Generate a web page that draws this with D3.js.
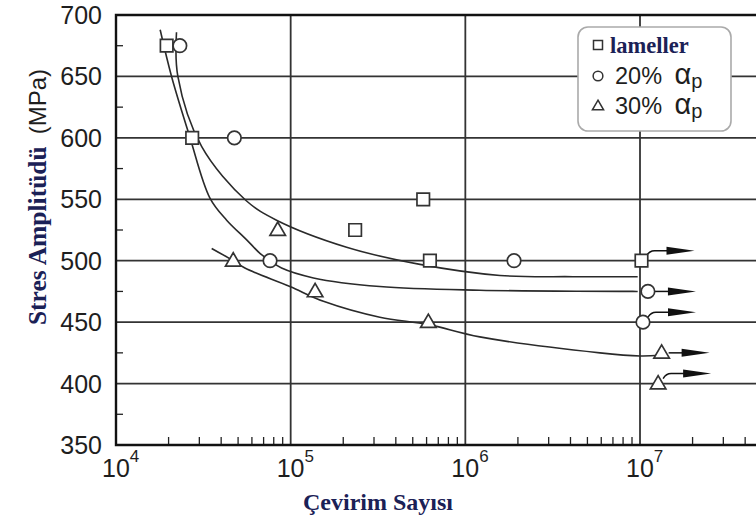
<!DOCTYPE html>
<html><head><meta charset="utf-8">
<script src="https://cdn.jsdelivr.net/npm/d3@7"></script>
<style>html,body{margin:0;padding:0;background:#fff;overflow:hidden}</style>
</head><body>
<svg id="c" width="756" height="522"></svg>
<script>
// ---------- data ----------
const xTickVals = [1e4, 1e5, 1e6, 1e7];
const xTickExp = ["4", "5", "6", "7"];
const yTickVals = [350, 400, 450, 500, 550, 600, 650, 700];
const yMinorVals = [375, 425, 475, 525, 575, 625, 675];

// lameller (squares); runout: 0 none, 1 straight arrow, 2 bent arrow
const lamN = [1.95e4, 2.73e4, 2.34e5, 5.74e5, 6.27e5, 1.02e7];
const lamS = [675, 600, 525, 550, 500, 500];
const lamRun = [0, 0, 0, 0, 0, 2];
// 20% alpha_p (circles)
const p20N = [2.32e4, 4.76e4, 7.62e4, 1.9e6, 1.11e7, 1.04e7];
const p20S = [675, 600, 500, 500, 475, 450];
const p20Run = [0, 0, 0, 0, 1, 2];
// 30% alpha_p (triangles)
const p30N = [8.43e4, 4.69e4, 1.38e5, 6.14e5, 1.33e7, 1.27e7];
const p30S = [525, 500, 475, 450, 425, 400];
const p30Run = [0, 0, 0, 0, 1, 2];

// fitted curves
const curveUN = [2.22e4, 2.26e4, 3.09e4, 5.55e4, 8.3e4, 2.09e5, 5.5e5, 1.58e6, 4.13e6, 9.7e6];
const curveUS = [686, 650, 593, 549, 533, 511, 497, 488, 487, 487];
const curveMN = [1.79e4, 2.08e4, 2.63e4, 3.45e4, 4.3e4, 5.6e4, 6.67e4, 7.62e4, 8.87e4, 1.35e5, 3.24e5, 1.21e6, 9.7e6];
const curveMS = [688, 650, 602, 551, 533, 517, 506, 500, 494, 486, 479, 476, 475];
const curveLN = [3.53e4, 4.69e4, 5.47e4, 9.9e4, 1.54e5, 3.24e5, 6.14e5, 1.21e6, 5.9e6, 1.0e7, 1.3e7];
const curveLS = [510, 500, 494, 479, 467, 454, 448, 438, 425, 422.5, 423];

const legendLabels = ["lameller", "20% ", "30% "];

// ---------- drawing ----------
const svg = d3.select("#c");
const L = 116, T = 15, B = 445, R = 756;
const x = d3.scaleLog().domain([1e4, 1e7]).range([L, 640]);
const y = d3.scaleLinear().domain([350, 700]).range([B, T]);
const gridCol = "#333", ink = "#2a2a2a";

svg.append("rect").attr("width", 756).attr("height", 522).attr("fill", "#fff");

const g = svg.append("g");
g.selectAll(".hg").data(yTickVals.filter(v => v > 350 && v < 700)).join("line")
  .attr("x1", L).attr("x2", R).attr("y1", d => y(d)).attr("y2", d => y(d))
  .attr("stroke", gridCol).attr("stroke-width", 1.8);
g.selectAll(".vg").data(xTickVals.slice(1)).join("line")
  .attr("x1", d => x(d)).attr("x2", d => x(d)).attr("y1", T).attr("y2", B)
  .attr("stroke", gridCol).attr("stroke-width", 1.8);

const xMinor = [];
for (let d = 4; d <= 7; d++) for (let k = 2; k <= 9; k++) { const v = k * Math.pow(10, d); if (x(v) < R) xMinor.push(v); }
g.selectAll(".xm").data(xMinor).join("line")
  .attr("x1", d => x(d)).attr("x2", d => x(d)).attr("y1", B).attr("y2", B - 8)
  .attr("stroke", "#222").attr("stroke-width", 1.3);
g.selectAll(".ym").data(yMinorVals).join("line")
  .attr("x1", L).attr("x2", L + 7).attr("y1", d => y(d)).attr("y2", d => y(d))
  .attr("stroke", "#222").attr("stroke-width", 1.3);

const line = d3.line().x(d => x(d[0])).y(d => y(d[1])).curve(d3.curveCatmullRom.alpha(0.5));
[[curveUN, curveUS], [curveMN, curveMS], [curveLN, curveLS]].forEach(([N, S]) => {
  g.append("path").attr("d", line(N.map((n, i) => [n, S[i]])))
    .attr("fill", "none").attr("stroke", ink).attr("stroke-width", 1.6);
});

function head(tx, ty) {
  g.append("path").attr("d", `M${tx - 28},${ty - 4} L${tx},${ty} L${tx - 28},${ty + 4} Z`).attr("fill", "#111");
}
function arrow(x0, y0, type) {
  if (type === 2) {
    const yy = y0 - 10, tip = x0 + 53;
    g.append("path").attr("d", `M${x0 + 5},${y0 - 5} Q${x0 + 8},${yy} ${x0 + 13},${yy} H${tip - 20}`)
      .attr("fill", "none").attr("stroke", "#111").attr("stroke-width", 1.5);
    head(tip, yy);
  } else {
    const tip = x0 + 48;
    g.append("line").attr("x1", x0 + 7).attr("x2", tip - 20).attr("y1", y0).attr("y2", y0)
      .attr("stroke", "#111").attr("stroke-width", 1.5);
    head(tip, y0);
  }
}

const sym = {
  square: (s) => `M${-s / 2},${-s / 2}h${s}v${s}h${-s}Z`,
  circle: (s) => `M${s / 2},0A${s / 2},${s / 2} 0 1,1 ${-s / 2},0A${s / 2},${s / 2} 0 1,1 ${s / 2},0Z`,
  triangle: (s) => { const h = s * 0.86; return `M0,${-h * 0.6}L${s / 2},${h * 0.4}L${-s / 2},${h * 0.4}Z`; }
};
const series = [
  { N: lamN, S: lamS, run: lamRun, shape: "square", size: 12.5 },
  { N: p20N, S: p20S, run: p20Run, shape: "circle", size: 13.5 },
  { N: p30N, S: p30S, run: p30Run, shape: "triangle", size: 15.5 }
];
series.forEach(s => s.N.forEach((n, i) => { if (s.run[i]) arrow(x(n), y(s.S[i]), s.run[i]); }));
series.forEach(s => {
  g.selectAll(null).data(s.N.map((n, i) => [n, s.S[i]])).join("path")
    .attr("transform", d => `translate(${x(d[0])},${y(d[1])})`)
    .attr("d", sym[s.shape](s.size))
    .attr("fill", "#fff").attr("stroke", "#333").attr("stroke-width", 1.7);
});

g.append("path").attr("d", `M${R},${T}H${L}V${B}H${R}`).attr("fill", "none").attr("stroke", "#111").attr("stroke-width", 2.4);

const sans = "Liberation Sans, Arial, sans-serif", serif = "Liberation Serif, Times New Roman, serif";
g.selectAll(".yl").data(yTickVals).join("text")
  .attr("x", 102).attr("y", d => y(d) + 9).attr("text-anchor", "end")
  .attr("font-family", sans).attr("font-size", 25).attr("fill", "#1e1e1e")
  .text(d => d);
xTickVals.forEach((v, i) => {
  const t = g.append("text").attr("x", x(v) - 14).attr("y", 477)
    .attr("font-family", sans).attr("font-size", 25).attr("fill", "#1e1e1e");
  t.append("tspan").text("10");
  t.append("tspan").attr("dy", -15).attr("font-size", 17).text(xTickExp[i]);
});

const navy = "#1b2156";
g.append("text").attr("x", 378).attr("y", 510).attr("text-anchor", "middle")
  .attr("font-family", serif).attr("font-weight", "bold")
  .attr("font-size", 24).attr("fill", navy).text("Çevirim Sayısı");
const yt = g.append("text").attr("transform", "translate(46,197) rotate(-90)").attr("text-anchor", "middle");
yt.append("tspan").attr("font-family", serif).attr("font-weight", "bold")
  .attr("font-size", 25.5).attr("fill", navy).text("Stres Amplitüdü");
yt.append("tspan").attr("dx", 12).attr("font-family", sans)
  .attr("font-size", 24).attr("fill", "#1e1e1e").text("(MPa)");

const lg = svg.append("g");
lg.append("rect").attr("x", 578).attr("y", 27).attr("width", 153).attr("height", 104).attr("rx", 10)
  .attr("fill", "#fff").attr("stroke", "#aaa").attr("stroke-width", 1.6);
const ly = [45, 76, 106];
series.forEach((s, i) => {
  lg.append("path").attr("transform", `translate(598,${ly[i]})`).attr("d", sym[s.shape](s.size * 0.72))
    .attr("fill", "#fff").attr("stroke", "#333").attr("stroke-width", 1.5);
});
lg.append("text").attr("x", 610).attr("y", 53).attr("font-family", serif)
  .attr("font-weight", "bold").attr("font-size", 22.5).attr("fill", navy).text(legendLabels[0]);
[1, 2].forEach(i => {
  const t = lg.append("text").attr("x", 615).attr("y", ly[i] + 8)
    .attr("font-family", sans).attr("font-size", 23.5).attr("fill", "#1e1e1e");
  t.append("tspan").text(legendLabels[i]);
  t.append("tspan").attr("font-size", 29).attr("dx", 6).text("α");
  t.append("tspan").attr("font-size", 20).attr("dy", 4).text("p");
});
</script>
</body></html>
